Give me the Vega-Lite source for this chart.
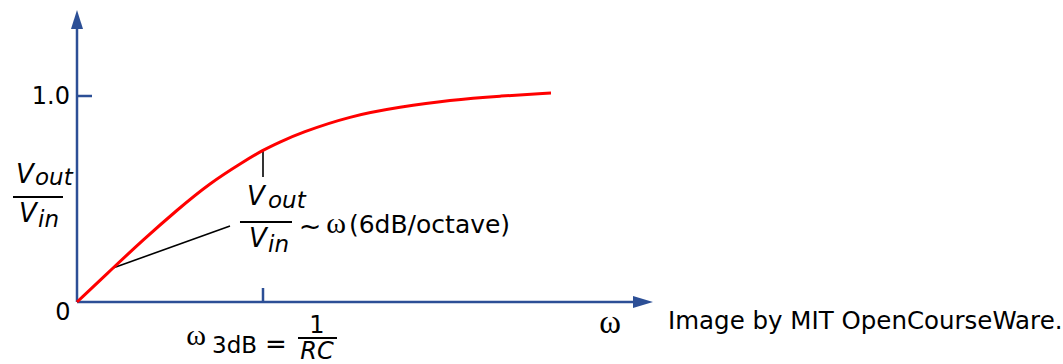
{
  "$schema": "https://vega.github.io/schema/vega-lite/v6.json",
  "width": 1063,
  "height": 364,
  "autosize": "none",
  "padding": 0,
  "background": "white",
  "config": {"view": {"stroke": null}},
  "datasets": {
    "curve": [
      {"x": 0, "y": 0},
      {"x": 0.1935, "y": 0.165},
      {"x": 0.3548, "y": 0.301},
      {"x": 0.5376, "y": 0.4466},
      {"x": 0.7151, "y": 0.5777},
      {"x": 0.8925, "y": 0.6796},
      {"x": 1.0, "y": 0.7379},
      {"x": 1.0914, "y": 0.7767},
      {"x": 1.1989, "y": 0.8204},
      {"x": 1.4677, "y": 0.9029},
      {"x": 1.7366, "y": 0.9466},
      {"x": 2.0054, "y": 0.9806},
      {"x": 2.2742, "y": 1.0},
      {"x": 2.5484, "y": 1.0146}
    ],
    "axes": [
      {"x": 0, "y": 0, "x2": 0, "y2": 1.335},
      {"x": 0, "y": 0, "x2": 3.0, "y2": 0},
      {"x": 0, "y": 1.0, "x2": 0.0806, "y2": 1.0},
      {"x": 1.0, "y": 0, "x2": 1.0, "y2": 0.068}
    ],
    "leaders": [
      {"x": 0.1935, "y": 0.165, "x2": 0.8226, "y2": 0.3689},
      {"x": 1.0, "y": 0.7379, "x2": 1.0, "y2": 0.6068}
    ],
    "bars": [
      {"x": -0.3441, "y": 0.5097, "x2": -0.0753, "y2": 0.5097},
      {"x": 0.8763, "y": 0.3883, "x2": 1.1559, "y2": 0.3883},
      {"x": 1.1882, "y": -0.1748, "x2": 1.3978, "y2": -0.1748}
    ],
    "upArrow": [{"x": 0, "y": 1.3714}],
    "rightArrow": [{"x": 3.043, "y": 0}],
    "tickRight": [{"x": -0.0376, "y": 0.9612, "t": "1.0"}],
    "tickCenter": [{"x": -0.0753, "y": -0.0874, "t": "0"}],
    "italicBig": [
      {"x": -0.2796, "y": 0.5777, "t": "V"},
      {"x": -0.2634, "y": 0.3883, "t": "V"},
      {"x": 0.9624, "y": 0.4709, "t": "V"},
      {"x": 0.9731, "y": 0.267, "t": "V"}
    ],
    "rc": [{"x": 1.2903, "y": -0.2767, "t": "RC"}],
    "italicSub": [
      {"x": -0.2258, "y": 0.568, "t": "out"},
      {"x": -0.2097, "y": 0.3641, "t": "in"},
      {"x": 1.0269, "y": 0.4563, "t": "out"},
      {"x": 1.0269, "y": 0.2427, "t": "in"}
    ],
    "omegaSmall": [
      {"x": 0.6398, "y": -0.2087, "t": "ω"},
      {"x": 1.3925, "y": 0.335, "t": "ω"}
    ],
    "omegaAxis": [{"x": 2.8656, "y": -0.1505, "t": "ω"}],
    "octave": [{"x": 1.462, "y": 0.335, "t": "(6dB/octave)"}],
    "tilde": [{"x": 1.2527, "y": 0.325, "t": "~"}],
    "sub3db": [{"x": 0.7258, "y": -0.2476, "t": "3dB"}],
    "equals": [{"x": 1.0699, "y": -0.2476, "t": "="}],
    "one": [{"x": 1.2903, "y": -0.1505, "t": "1"}],
    "credit": [{"x": 3.1774, "y": -0.1311, "t": "Image by MIT OpenCourseWare."}]
  },
  "encoding": {
    "x": {"field": "x", "type": "quantitative", "scale": {"domain": [-0.41398, 5.30108], "nice": false, "zero": false}, "axis": null},
    "y": {"field": "y", "type": "quantitative", "scale": {"domain": [-0.30097, 1.46602], "nice": false, "zero": false}, "axis": null}
  },
  "layer": [
    {
      "data": {"name": "axes"},
      "mark": {"type": "rule", "color": "#2c4f96", "strokeWidth": 2.5, "clip": false},
      "encoding": {"x2": {"field": "x2"}, "y2": {"field": "y2"}}
    },
    {
      "data": {"name": "upArrow"},
      "mark": {"type": "point", "shape": "M0,-1L0.63,1L-0.63,1Z", "size": 361, "filled": true, "color": "#2c4f96", "opacity": 1, "clip": false}
    },
    {
      "data": {"name": "rightArrow"},
      "mark": {"type": "point", "shape": "M1,0L-1,-0.6L-1,0.6Z", "size": 400, "filled": true, "color": "#2c4f96", "opacity": 1, "clip": false}
    },
    {
      "data": {"name": "leaders"},
      "mark": {"type": "rule", "color": "black", "strokeWidth": 1.6},
      "encoding": {"x2": {"field": "x2"}, "y2": {"field": "y2"}}
    },
    {
      "data": {"name": "bars"},
      "mark": {"type": "rule", "color": "black", "strokeWidth": 1.8},
      "encoding": {"x2": {"field": "x2"}, "y2": {"field": "y2"}}
    },
    {
      "data": {"name": "curve"},
      "mark": {"type": "line", "color": "#ff0000", "strokeWidth": 3, "interpolate": "basis"}
    },
    {
      "data": {"name": "tickRight"},
      "mark": {"type": "text", "font": "DejaVu Sans", "fontSize": 24, "align": "right", "baseline": "alphabetic", "color": "black"},
      "encoding": {"text": {"field": "t"}}
    },
    {
      "data": {"name": "tickCenter"},
      "mark": {"type": "text", "font": "DejaVu Sans", "fontSize": 24, "align": "center", "baseline": "alphabetic", "color": "black"},
      "encoding": {"text": {"field": "t"}}
    },
    {
      "data": {"name": "italicBig"},
      "mark": {"type": "text", "font": "DejaVu Sans", "fontStyle": "italic", "fontSize": 26, "align": "center", "baseline": "alphabetic", "color": "black"},
      "encoding": {"text": {"field": "t"}}
    },
    {
      "data": {"name": "rc"},
      "mark": {"type": "text", "font": "DejaVu Sans", "fontStyle": "italic", "fontSize": 24, "align": "center", "baseline": "alphabetic", "color": "black", "clip": false},
      "encoding": {"text": {"field": "t"}}
    },
    {
      "data": {"name": "italicSub"},
      "mark": {"type": "text", "font": "DejaVu Sans", "fontStyle": "italic", "fontSize": 23, "align": "left", "baseline": "alphabetic", "color": "black"},
      "encoding": {"text": {"field": "t"}}
    },
    {
      "data": {"name": "omegaSmall"},
      "mark": {"type": "text", "font": "Liberation Serif", "fontSize": 30, "align": "center", "baseline": "alphabetic", "color": "black"},
      "encoding": {"text": {"field": "t"}}
    },
    {
      "data": {"name": "omegaAxis"},
      "mark": {"type": "text", "font": "Liberation Serif", "fontSize": 33, "align": "center", "baseline": "alphabetic", "color": "black"},
      "encoding": {"text": {"field": "t"}}
    },
    {
      "data": {"name": "octave"},
      "mark": {"type": "text", "font": "DejaVu Sans", "fontSize": 25, "align": "left", "baseline": "alphabetic", "color": "black"},
      "encoding": {"text": {"field": "t"}}
    },
    {
      "data": {"name": "tilde"},
      "mark": {"type": "text", "font": "DejaVu Sans", "fontSize": 27, "align": "center", "baseline": "alphabetic", "color": "black"},
      "encoding": {"text": {"field": "t"}}
    },
    {
      "data": {"name": "sub3db"},
      "mark": {"type": "text", "font": "DejaVu Sans", "fontSize": 23, "align": "left", "baseline": "alphabetic", "color": "black"},
      "encoding": {"text": {"field": "t"}}
    },
    {
      "data": {"name": "equals"},
      "mark": {"type": "text", "font": "DejaVu Sans", "fontSize": 26, "align": "center", "baseline": "alphabetic", "color": "black"},
      "encoding": {"text": {"field": "t"}}
    },
    {
      "data": {"name": "one"},
      "mark": {"type": "text", "font": "DejaVu Sans", "fontSize": 24, "align": "center", "baseline": "alphabetic", "color": "black"},
      "encoding": {"text": {"field": "t"}}
    },
    {
      "data": {"name": "credit"},
      "mark": {"type": "text", "font": "DejaVu Sans", "fontSize": 24.5, "align": "left", "baseline": "alphabetic", "color": "black"},
      "encoding": {"text": {"field": "t"}}
    }
  ]
}
